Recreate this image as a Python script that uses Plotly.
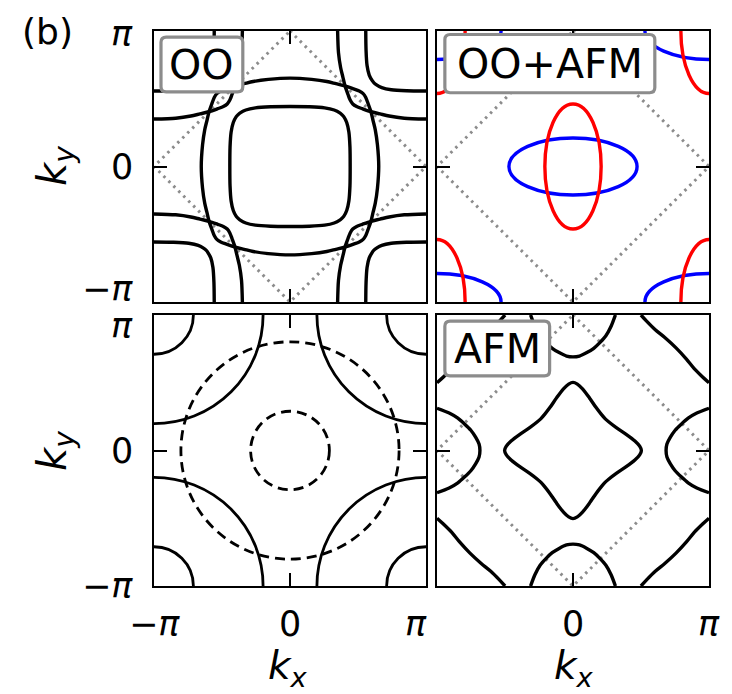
import plotly.graph_objects as go

PI = 3.141592653589793

# ---------------- data ----------------
TICK_VALS = [-PI, 0.0, PI]
TICK_TEXT = ["\u2212<i>\u03c0</i>", "0", "<i>\u03c0</i>"]

PANEL_LABELS = ["OO", "OO+AFM", "AFM"]

# folded (AFM) zone boundary
DIAMOND_KX = [0.0, PI, 0.0, -PI, 0.0]
DIAMOND_KY = [PI, 0.0, -PI, 0.0, PI]

# --- OO panel, first-quadrant arcs ---
OO_INNER_KX = [0.0, 0.45, 0.80, 1.02, 1.15, 1.20, 1.245, 1.31, 1.36, 1.385, 1.39]
OO_INNER_KY = [1.39, 1.385, 1.36, 1.31, 1.245, 1.20, 1.15, 1.02, 0.80, 0.45, 0.0]
OO_OUTER_KX = [0.0, 0.50, 0.85, 1.06, 1.27, 1.47, 1.60, 1.69, 1.75, 1.80, 1.87, 1.92, 1.97, 2.02, 2.05]
OO_OUTER_KY = [2.05, 2.02, 1.97, 1.92, 1.87, 1.80, 1.75, 1.69, 1.60, 1.47, 1.27, 1.06, 0.85, 0.50, 0.0]
OO_MSHEET_KX = [PI, 2.64, 2.29, 2.08, 1.87, 1.67, 1.54, 1.45, 1.39, 1.34, 1.27, 1.22, 1.17, 1.12, 1.10]
OO_MSHEET_KY = [1.10, 1.12, 1.17, 1.22, 1.27, 1.34, 1.39, 1.45, 1.54, 1.67, 1.87, 2.08, 2.29, 2.64, PI]
OO_MPOCKET_KX = [PI, 2.69, 2.34, 2.12, 1.99, 1.94, 1.90, 1.83, 1.78, 1.757, 1.75]
OO_MPOCKET_KY = [1.75, 1.757, 1.78, 1.83, 1.90, 1.94, 1.99, 2.12, 2.34, 2.69, PI]

# --- OO+AFM panel: elliptic pockets (centres and semi-axes) ---
OOAFM_CENTER_KX = [0.0, -PI, PI, -PI, PI]
OOAFM_CENTER_KY = [0.0, PI, PI, -PI, -PI]
OOAFM_RED_AXES = [0.65, 1.45]
OOAFM_BLUE_AXES = [1.48, 0.66]

# --- bottom-left panel: circular sheets ---
BL_RADII = [0.91, 2.52]
BL_SOLID_CENTER_KX = [-PI, PI, -PI, PI]
BL_SOLID_CENTER_KY = [PI, PI, -PI, -PI]

# --- AFM panel, first-quadrant arcs ---
AFM_CENTER_KX = [0.0, 0.10, 0.22, 0.38, 0.53, 0.66, 0.74, 0.83, 1.00, 1.22, 1.43, 1.54, 1.58]
AFM_CENTER_KY = [1.58, 1.54, 1.43, 1.22, 1.00, 0.83, 0.74, 0.66, 0.53, 0.38, 0.22, 0.10, 0.0]
AFM_SIDE_KX = [PI, 2.86, 2.66, 2.50, 2.36, 2.25, 2.17, 2.15]
AFM_SIDE_KY = [0.98, 0.87, 0.75, 0.61, 0.47, 0.31, 0.15, 0.0]
AFM_TOP_KX = [0.0, 0.15, 0.32, 0.48, 0.62, 0.76, 0.88, 0.98]
AFM_TOP_KY = [2.17, 2.19, 2.27, 2.37, 2.50, 2.66, 2.88, PI]
AFM_CORNER_KX = [1.57, 1.70, 1.90, 2.12, 2.38, 2.62, 2.80, 3.00, PI]
AFM_CORNER_KY = [PI, 3.00, 2.80, 2.62, 2.38, 2.12, 1.90, 1.70, 1.57]


# ---------------- helpers (mirror the quadrant readings) ----------------
def closed_curve(qx, qy):
    xs = list(qx) + [x for x in reversed(qx)][1:]
    ys = list(qy) + [-y for y in reversed(qy)][1:]
    xs += [-x for x in qx][1:]
    ys += [-y for y in qy][1:]
    xs += [-x for x in reversed(qx)][1:]
    ys += [y for y in reversed(qy)][1:]
    return xs, ys


def four_copies(qx, qy):
    xs, ys = [], []
    for sx, sy in [(1, 1), (-1, 1), (1, -1), (-1, -1)]:
        xs += [sx * x for x in qx] + [None]
        ys += [sy * y for y in qy] + [None]
    return xs, ys


def side_pockets(qx, qy):
    ax = list(qx) + [x for x in reversed(qx)][1:]
    ay = list(qy) + [-y for y in reversed(qy)][1:]
    return ax + [None] + [-x for x in ax], ay + [None] + ay


def top_pockets(qx, qy):
    ax = [-x for x in reversed(qx)] + list(qx)[1:]
    ay = [y for y in reversed(qy)] + list(qy)[1:]
    return ax + [None] + ax, ay + [None] + [-y for y in ay]


BLACK = "#000000"
GRAY = "#8c8c8c"
LW = 3.4
FONT = "DejaVu Sans"

fig = go.Figure()


def line(xs, ys, ax, color=BLACK, width=LW, dash=None, spline=True):
    fig.add_trace(go.Scatter(
        x=xs, y=ys, xaxis="x" + ax, yaxis="y" + ax, mode="lines",
        line=dict(color=color, width=width, dash=dash,
                  shape="spline" if spline else "linear", smoothing=0.8),
        hoverinfo="skip", showlegend=False, connectgaps=False))


def diamond(ax):
    line(DIAMOND_KX, DIAMOND_KY, ax, color=GRAY, width=3, dash="2.5px,4.5px", spline=False)


# panel 1: OO
diamond("")
line(*closed_curve(OO_INNER_KX, OO_INNER_KY), "")
line(*closed_curve(OO_OUTER_KX, OO_OUTER_KY), "")
line(*four_copies(OO_MSHEET_KX, OO_MSHEET_KY), "")
line(*four_copies(OO_MPOCKET_KX, OO_MPOCKET_KY), "")

# panel 2: OO+AFM
diamond("2")
# panel 4: AFM
diamond("4")
line(*closed_curve(AFM_CENTER_KX, AFM_CENTER_KY), "4")
line(*side_pockets(AFM_SIDE_KX, AFM_SIDE_KY), "4")
line(*top_pockets(AFM_TOP_KX, AFM_TOP_KY), "4")
line(*four_copies(AFM_CORNER_KX, AFM_CORNER_KY), "4")
fig.add_trace(go.Scatter(x=[None], y=[None], xaxis="x3", yaxis="y3", showlegend=False))

shapes = []
for axes, col in [(OOAFM_BLUE_AXES, "#0000ff"), (OOAFM_RED_AXES, "#ff0000")]:
    for cx, cy in zip(OOAFM_CENTER_KX, OOAFM_CENTER_KY):
        shapes.append(dict(type="circle", xref="x2", yref="y2",
                           x0=cx - axes[0], x1=cx + axes[0], y0=cy - axes[1], y1=cy + axes[1],
                           line=dict(color=col, width=LW), layer="above"))
for r in BL_RADII:
    shapes.append(dict(type="circle", xref="x3", yref="y3", x0=-r, x1=r, y0=-r, y1=r,
                       line=dict(color=BLACK, width=LW - 0.6, dash="10px,6px"), layer="above"))
    for cx, cy in zip(BL_SOLID_CENTER_KX, BL_SOLID_CENTER_KY):
        shapes.append(dict(type="circle", xref="x3", yref="y3",
                           x0=cx - r, x1=cx + r, y0=cy - r, y1=cy + r,
                           line=dict(color=BLACK, width=LW - 0.6), layer="above"))


def rounded_box(ax, x0, x1, y0, y1, r=0.12):
    p = (f"M{x0 + r},{y0} L{x1 - r},{y0} Q{x1},{y0} {x1},{y0 + r} "
         f"L{x1},{y1 - r} Q{x1},{y1} {x1 - r},{y1} L{x0 + r},{y1} "
         f"Q{x0},{y1} {x0},{y1 - r} L{x0},{y0 + r} Q{x0},{y0} {x0 + r},{y0} Z")
    shapes.append(dict(type="path", path=p, xref="x" + ax, yref="y" + ax,
                       fillcolor="white", line=dict(color=GRAY, width=3.2), layer="above"))


rounded_box("", -2.98, -1.09, 1.73, 3.0)
rounded_box("2", -2.96, 1.89, 1.71, 3.06)
rounded_box("4", -2.96, -0.54, 1.73, 3.0)

annotations = []


def text(t, size, **kw):
    d = dict(text=t, showarrow=False, xanchor="center", yanchor="middle",
             font=dict(family=FONT, size=size, color=BLACK))
    d.update(kw)
    annotations.append(d)


for ax, label, x0, x1, yc in [("", PANEL_LABELS[0], -2.98, -1.09, 2.36),
                              ("2", PANEL_LABELS[1], -2.96, 1.89, 2.38),
                              ("4", PANEL_LABELS[2], -2.96, -0.54, 2.36)]:
    text(label, 41, xref="x" + ax, yref="y" + ax, x=(x0 + x1) / 2, y=yc)

# y tick labels (left column) with the small offsets of the original
for yax, shifts in [("y", [13, 0, -3]), ("y3", [0, 0, -11])]:
    for v, t, s in zip(TICK_VALS, TICK_TEXT, shifts):
        text(t, 35, xref="paper", yref=yax, x=135 / 732, y=v, xanchor="right", yshift=s)
# x tick labels (bottom row)
for xax, idx, shifts in [("x3", [0, 1, 2], [0, 0, -10]), ("x4", [1, 2], [0, 0])]:
    for i, s in zip(idx, shifts):
        text(TICK_TEXT[i], 35, xref=xax, yref="paper", x=TICK_VALS[i], y=1 - 624 / 694, xshift=s)

KY = "<i>k</i><sub><i>y</i></sub>"
KX = "<i>k</i><sub><i>x</i></sub>"
for yp in [1 - 166 / 694, 1 - 451 / 694]:
    text(KY, 40, xref="paper", yref="paper", x=55 / 732, y=yp, textangle=-90)
for xp in [288 / 732, 574 / 732]:
    text(KX, 39, xref="paper", yref="paper", x=xp, y=1 - 668 / 694)
text("(b)", 36, xref="paper", yref="paper", x=47 / 732, y=1 - 31 / 694)

XD_L = [154 / 732, 426 / 732]
XD_R = [437 / 732, 709 / 732]
YD_T = [1 - 302 / 694, 1 - 31 / 694]
YD_B = [1 - 586 / 694, 1 - 315 / 694]


def axis(domain, anchor):
    return dict(domain=domain, anchor=anchor, range=[-PI, PI], showgrid=False, zeroline=False,
                showline=True, linecolor=BLACK, linewidth=2, mirror="allticks",
                ticks="inside", ticklen=13, tickwidth=2, tickcolor=BLACK,
                tickvals=TICK_VALS, showticklabels=False, automargin=False, fixedrange=True)


fig.update_layout(
    width=732, height=694, margin=dict(l=0, r=0, t=0, b=0),
    paper_bgcolor="white", plot_bgcolor="white", showlegend=False,
    xaxis=axis(XD_L, "y"), yaxis=axis(YD_T, "x"),
    xaxis2=axis(XD_R, "y2"), yaxis2=axis(YD_T, "x2"),
    xaxis3=axis(XD_L, "y3"), yaxis3=axis(YD_B, "x3"),
    xaxis4=axis(XD_R, "y4"), yaxis4=axis(YD_B, "x4"),
    shapes=shapes, annotations=annotations,
)

fig.write_html("out.html")
